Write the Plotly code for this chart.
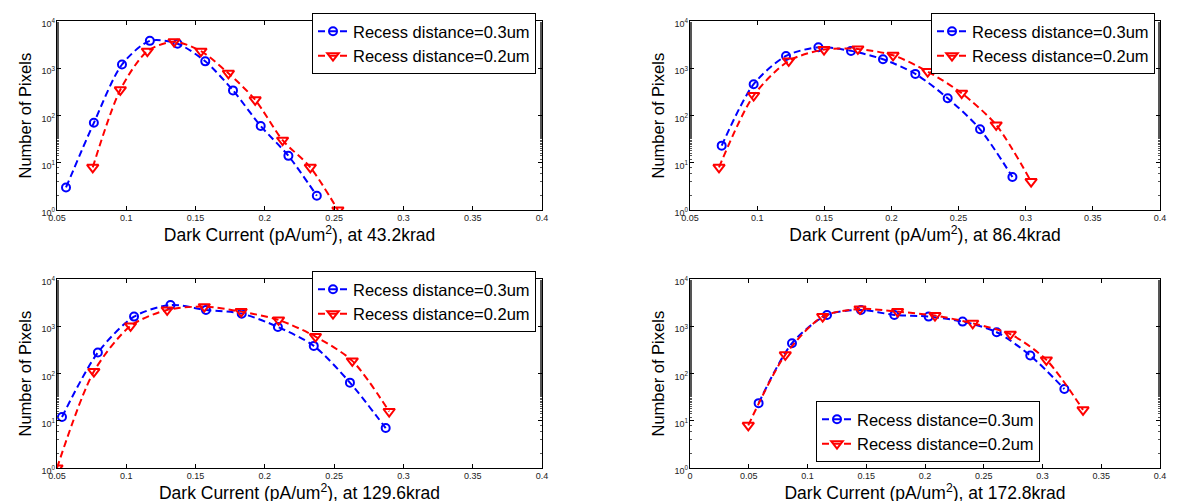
import plotly.graph_objects as go

# ---------------- data ----------------
series_names = ["Recess distance=0.3um", "Recess distance=0.2um"]
dose_labels = ["43.2krad", "86.4krad", "129.6krad", "172.8krad"]
y_title = "Number of Pixels"

x03_43 = [0.0565, 0.0766, 0.0969, 0.117, 0.137, 0.157, 0.177, 0.197, 0.217, 0.2375]
y03_43 = [3, 70, 1200, 3800, 3300, 1400, 340, 60, 14, 2]
x02_43 = [0.0758, 0.0957, 0.1152, 0.1345, 0.1539, 0.1737, 0.193, 0.2128, 0.2328, 0.2527]
y02_43 = [8, 350, 2300, 3650, 2300, 780, 215, 30, 8, 1]

x03_86 = [0.0736, 0.0974, 0.1215, 0.1456, 0.1699, 0.1937, 0.2178, 0.2419, 0.266, 0.2901]
y03_86 = [23, 460, 1820, 2780, 2330, 1550, 760, 232, 51, 5]
x02_86 = [0.0716, 0.0974, 0.1235, 0.1498, 0.175, 0.2012, 0.227, 0.2523, 0.278, 0.304]
y02_86 = [8, 265, 1430, 2480, 2560, 1880, 850, 296, 63, 4]

x03_129 = [0.0536, 0.0795, 0.1056, 0.1319, 0.1575, 0.1833, 0.2094, 0.2353, 0.2614, 0.2872]
y03_129 = [12, 278, 1600, 2820, 2215, 1850, 968, 384, 64, 7]
x02_129 = [0.05, 0.0766, 0.1031, 0.1295, 0.1563, 0.1829, 0.2099, 0.2365, 0.2631, 0.2897]
y02_129 = [1, 110, 1016, 2215, 2600, 2040, 1360, 605, 185, 15.7]

x03_172 = [0.0584, 0.0868, 0.1166, 0.1455, 0.1739, 0.2031, 0.232, 0.261, 0.2896, 0.3186]
y03_172 = [23.6, 437, 1735, 2215, 1735, 1600, 1255, 747, 240, 47]
x02_172 = [0.0496, 0.0811, 0.1129, 0.1447, 0.1767, 0.2085, 0.2406, 0.2726, 0.3033, 0.3345]
y02_172 = [8, 248, 1600, 2325, 2040, 1680, 1157, 678, 194, 17]

x_ticks_a = [0.05, 0.1, 0.15, 0.2, 0.25, 0.3, 0.35, 0.4]
x_ticks_b = [0, 0.05, 0.1, 0.15, 0.2, 0.25, 0.3, 0.35, 0.4]
x_ticktext_a = ["0.05", "0.1", "0.15", "0.2", "0.25", "0.3", "0.35", "0.4"]
x_ticktext_b = ["0", "0.05", "0.1", "0.15", "0.2", "0.25", "0.3", "0.35", "0.4"]
y_ticks = [1, 10, 100, 1000, 10000]
y_ticktext = ["10<sup>0</sup>", "10<sup>1</sup>", "10<sup>2</sup>", "10<sup>3</sup>", "10<sup>4</sup>"]

panels = [
    (x03_43, y03_43, x02_43, y02_43),
    (x03_86, y03_86, x02_86, y02_86),
    (x03_129, y03_129, x02_129, y02_129),
    (x03_172, y03_172, x02_172, y02_172),
]

# ---------------- layout geometry ----------------
W, H = 1180, 501
xdoms = [(49 / W, 534 / W), (682 / W, 1152 / W), (49 / W, 534 / W), (682 / W, 1152 / W)]
ydoms = [(1 - 202 / H, 1 - 13 / H), (1 - 202 / H, 1 - 13 / H),
         (1 - 460 / H, 1 - 271 / H), (1 - 460 / H, 1 - 271 / H)]
ytitle_x = [16 / W, 649 / W, 16 / W, 649 / W]
xranges = [(0.05, 0.4), (0.05, 0.4), (0.05, 0.4), (0.0, 0.4)]

FONT = "Liberation Sans, Arial, Helvetica, sans-serif"
BLUE = "rgb(0,0,255)"
RED = "rgb(255,0,0)"

fig = go.Figure()
layout = dict(
    width=W, height=H,
    margin=dict(l=0, r=0, t=0, b=0),
    paper_bgcolor="white", plot_bgcolor="white",
    font=dict(family=FONT, color="black"),
    showlegend=True,
)
annotations = []

for i, (xa, ya, xb, yb) in enumerate(panels):
    n = "" if i == 0 else str(i + 1)
    leg = "legend" if i == 0 else f"legend{i + 1}"
    fig.add_trace(go.Scatter(
        x=xa, y=ya, name=series_names[0], mode="lines+markers",
        line=dict(color=BLUE, width=2, dash="7px,4px", shape="spline", smoothing=0.8),
        marker=dict(symbol="circle-open", size=8, color=BLUE, line=dict(width=2, color=BLUE)),
        xaxis="x" + n, yaxis="y" + n, legend=leg,
    ))
    fig.add_trace(go.Scatter(
        x=xb, y=yb, name=series_names[1], mode="lines+markers",
        line=dict(color=RED, width=2, dash="7px,4px", shape="spline", smoothing=0.8),
        marker=dict(symbol="triangle-down-open", size=10, color=RED, line=dict(width=2, color=RED)),
        xaxis="x" + n, yaxis="y" + n, legend=leg,
    ))
    tv = x_ticks_b if i == 3 else x_ticks_a
    tt = x_ticktext_b if i == 3 else x_ticktext_a
    layout["xaxis" + n] = dict(
        domain=list(xdoms[i]), range=list(xranges[i]), anchor="y" + n,
        tickvals=tv, ticktext=tt, ticks="inside", ticklen=4, tickcolor="black",
        ticklabelstandoff=-1,
        showline=True, linecolor="black", linewidth=1.2, mirror="ticks",
        showgrid=False, zeroline=False, automargin=False,
        tickfont=dict(size=9, color="#222", family=FONT),
        title=dict(text=f"Dark Current (pA/um<sup>2</sup>), at {dose_labels[i]}",
                   font=dict(size=17.5, color="black", family=FONT), standoff=1),
    )
    layout["yaxis" + n] = dict(
        domain=list(ydoms[i]), type="log", range=[0, 4], anchor="x" + n,
        tickvals=y_ticks, ticktext=y_ticktext, ticks="inside", ticklen=4, tickcolor="black",
        ticklabelshift=3, ticklabelstandoff=-1,
        minor=dict(ticks="inside", ticklen=2, tickcolor="#555", tickwidth=0.6, showgrid=False),
        showline=True, linecolor="black", linewidth=1.2, mirror="ticks",
        showgrid=False, zeroline=False, automargin=False,
        tickfont=dict(size=9, color="#222", family=FONT),
    )
    annotations.append(dict(
        text=y_title, textangle=-90, showarrow=False,
        xref="paper", yref="paper", x=ytitle_x[i], y=sum(ydoms[i]) / 2,
        xanchor="center", yanchor="middle",
        font=dict(size=16.5, color="black", family=FONT),
    ))

leg_common = dict(
    bgcolor="white", bordercolor="black", borderwidth=1,
    font=dict(size=16.5, family=FONT, color="black"),
    tracegroupgap=0, itemwidth=30,
)
layout["legend"] = dict(x=528 / W, y=1 - 5 / H, xanchor="right", yanchor="top", **leg_common)
layout["legend2"] = dict(x=1147 / W, y=1 - 5 / H, xanchor="right", yanchor="top", **leg_common)
layout["legend3"] = dict(x=528 / W, y=1 - 263 / H, xanchor="right", yanchor="top", **leg_common)
layout["legend4"] = dict(x=808 / W, y=1 - 454 / H, xanchor="left", yanchor="bottom", **leg_common)
layout["annotations"] = annotations

fig.update_layout(**layout)
fig.write_html("out.html")
